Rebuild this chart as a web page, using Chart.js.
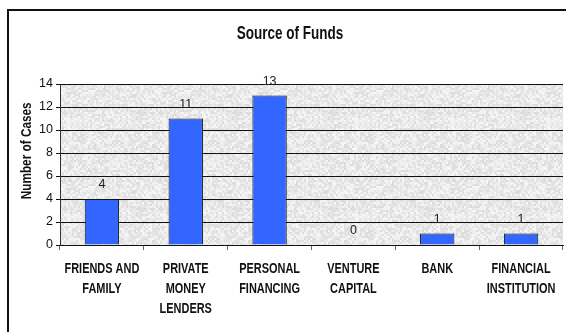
<!DOCTYPE html>
<html>
<head>
<meta charset="utf-8">
<script src="https://cdn.jsdelivr.net/npm/chart.js@4.4.1/dist/chart.umd.min.js"></script>
<style>
  html, body { margin: 0; padding: 0; background: #fff; overflow: hidden; }
  #frame { position: absolute; left: 7px; top: 9px; width: 600px; height: 400px; border: 2px solid #111; }
  #wrap { position: absolute; left: 0; top: 0; width: 566px; height: 332px; }
</style>
</head>
<body>
<div id="frame"></div>
<div id="wrap"><canvas id="fundsChart" width="566" height="332"></canvas></div>
<script>
const categories = [
  ['FRIENDS AND', 'FAMILY'],
  ['PRIVATE', 'MONEY', 'LENDERS'],
  ['PERSONAL', 'FINANCING'],
  ['VENTURE', 'CAPITAL'],
  ['BANK'],
  ['FINANCIAL', 'INSTITUTION']
];
const cases = [4, 11, 13, 0, 1, 1];
const yTicks = [0, 2, 4, 6, 8, 10, 12, 14];
const chartTitle = 'Source of Funds';
const yCaptionText = 'Number of Cases';

const SANS = '"Liberation Sans", Arial, sans-serif';

Chart.defaults.font.family = SANS;
Chart.defaults.color = '#111';

// bold text squeezed horizontally, like a narrow face
function narrowText(ctx, text, x, y, size, squeeze) {
  ctx.save();
  ctx.translate(x, y);
  ctx.scale(squeeze, 1);
  ctx.font = `bold ${size}px ${SANS}`;
  ctx.fillText(text, 0, 0);
  ctx.restore();
}

// grey speckled fill for the plot area (fixed seed so every render is the same)
function makeGranite() {
  const c = document.createElement('canvas');
  c.width = 96; c.height = 96;
  const g = c.getContext('2d');
  let seed = 1234567;
  const next = () => { seed = (seed * 1103515245 + 12345) % 2147483648; return seed / 2147483648; };
  for (let y = 0; y < 96; y += 2) {
    for (let x = 0; x < 96; x += 2) {
      const v = Math.round(218 + next() * 30);
      g.fillStyle = `rgb(${v},${v},${v})`;
      g.fillRect(x, y, 2, 2);
    }
  }
  return g.createPattern(c, 'repeat');
}

const plotBackground = {
  id: 'plotBackground',
  beforeDraw(chart) {
    const { ctx, chartArea: a } = chart;
    ctx.save();
    ctx.fillStyle = makeGranite();
    ctx.fillRect(a.left, a.top, a.right - a.left, a.bottom - a.top);
    ctx.restore();
  }
};

// value printed above each bar
const barValues = {
  id: 'barValues',
  afterDatasetsDraw(chart) {
    const { ctx } = chart;
    const meta = chart.getDatasetMeta(0);
    ctx.save();
    ctx.font = '12.5px ' + SANS;
    ctx.fillStyle = '#222';
    ctx.textAlign = 'center';
    ctx.textBaseline = 'alphabetic';
    meta.data.forEach((bar, i) => {
      ctx.fillText(String(cases[i]), bar.x, bar.y - 11);
    });
    ctx.restore();
  }
};

// title, rotated y caption and the multi-line category names
const captions = {
  id: 'captions',
  afterDraw(chart) {
    const { ctx, chartArea: a } = chart;
    const xScale = chart.scales.x;
    ctx.save();
    ctx.fillStyle = '#111';
    ctx.textAlign = 'center';
    ctx.textBaseline = 'middle';

    narrowText(ctx, chartTitle, 290, 34, 18, 0.75);

    ctx.save();
    ctx.translate(27, a.top + (a.bottom - a.top) * 0.415);
    ctx.rotate(-Math.PI / 2);
    narrowText(ctx, yCaptionText, 0, 0, 15.5, 0.76);
    ctx.restore();

    categories.forEach((lines, i) => {
      const x = xScale.getPixelForTick(i);
      lines.forEach((line, k) => {
        narrowText(ctx, line, x, a.bottom + 24 + k * 20, 15, 0.73);
      });
    });
    ctx.restore();
  }
};

new Chart(document.getElementById('fundsChart'), {
  type: 'bar',
  data: {
    labels: categories,
    datasets: [{
      data: cases,
      backgroundColor: '#3366ff',
      borderColor: '#111',
      borderWidth: 1,
      barPercentage: 0.41,
      categoryPercentage: 1
    }]
  },
  options: {
    responsive: false,
    animation: false,
    layout: { padding: { left: 8, top: 84, right: 3, bottom: 0 } },
    plugins: {
      legend: { display: false },
      tooltip: { enabled: false },
      title: { display: false }
    },
    scales: {
      x: {
        offset: true,
        grid: { display: true, drawOnChartArea: false, offset: true, tickLength: 5, color: '#666' },
        border: { display: true, color: '#111' },
        ticks: { display: false },
        afterFit(scale) { scale.height = 87; }
      },
      y: {
        min: 0,
        max: 14,
        afterBuildTicks(scale) { scale.ticks = yTicks.map(v => ({ value: v })); },
        grid: { color: '#111', lineWidth: 1, tickLength: 4 },
        border: { display: true, color: '#333' },
        ticks: { color: '#111', padding: 3, font: { size: 12.5 } },
        afterFit(scale) { scale.width = 52; }
      }
    }
  },
  plugins: [plotBackground, barValues, captions]
});
</script>
</body>
</html>
